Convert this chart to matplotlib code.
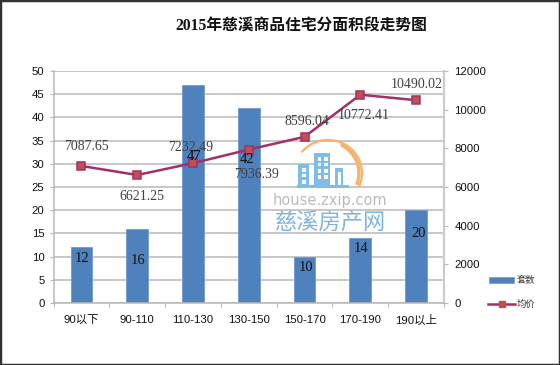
import matplotlib
matplotlib.use('Agg')
import matplotlib.pyplot as plt
from matplotlib.patches import Rectangle, Arc
from matplotlib.lines import Line2D

categories = ['90以下', '90-110', '110-130', '130-150', '150-170', '170-190', '190以上']
counts = [12, 16, 47, 42, 10, 14, 20]
prices = [7087.65, 6621.25, 7232.49, 7936.39, 8596.04, 10772.41, 10490.02]
price_labels = ['7087.65', '6621.25', '7232.49', '7936.39', '8596.04', '10772.41', '10490.02']
left_ticks = list(range(0, 51, 5))
right_ticks = list(range(0, 12001, 2000))

plt.rcParams['font.family'] = ['Liberation Sans', 'Noto Sans CJK SC', 'DejaVu Sans']
W, H = 560, 365
fig = plt.figure(figsize=(W / 100, H / 100), dpi=100, facecolor='white')
ax = fig.add_axes([53.5 / W, 1 - 303 / H, (444 - 53.5) / W, (303 - 71) / H])
x = list(range(len(categories)))
GRID = '#b8b8b8'
ax.set_axisbelow(True)
ax.bar(x, counts, width=0.39, color='#4f81bd', edgecolor='#6f9bd0', linewidth=0.6, zorder=2)
ax.set_xlim(-0.5, 6.5)
ax.set_ylim(0, 50)
ax.set_yticks(left_ticks)
ax.yaxis.grid(True, color=GRID, linewidth=1.1)
ax.set_xticks([i + 0.5 for i in range(-1, 7)])
ax.set_xticklabels([])
ax.tick_params(axis='x', length=3, color=GRID, direction='out')
ax.tick_params(axis='y', length=3, color=GRID, labelsize=8.2, pad=3.5, labelcolor='#111111')
for s in ['left', 'right', 'bottom']:
    ax.spines[s].set_color(GRID)
    ax.spines[s].set_linewidth(1.1)
ax.spines['right'].set_color('#cccccc')
ax.spines['right'].set_linewidth(1.6)
ax.spines['top'].set_visible(False)
for i, c in enumerate(categories):
    ax.text(i, -3.7, c, ha='center', va='center', fontsize=8.2, color='#111111')

ax2 = ax.twinx()
ax2.set_ylim(0, 12000)
ax2.set_yticks(right_ticks)
ax2.tick_params(axis='y', length=3, color=GRID, labelsize=8.2, pad=4.5, labelcolor='#111111')
for s in ax2.spines.values():
    s.set_visible(False)
ax2.plot(x, prices, color='#a0306a', linewidth=1.8, marker='s', markersize=6,
         markerfacecolor='#c0504d', markeredgecolor='#a0306a', markeredgewidth=1.1, zorder=4)

# watermark, placed in pixel space
pix = fig.transFigure
def P(px, py):
    return px / W, 1 - py / H
def box(px, py, w, h, color, z=3.5):
    fx, fy = P(px, py + h)
    ax2.add_artist(Rectangle((fx, fy), w / W, h / H, transform=pix, color=color, zorder=z, lw=0))
BL = '#7fbde8'
box(298, 164, 11, 23, BL)
box(314, 153, 16, 34, BL)
box(335, 168, 8, 19, BL)
box(297, 185, 52, 2.5, BL)
for wy in (168, 174, 180):
    box(302, wy, 3.5, 3.5, 'white', 3.6)
for wy in (157, 163, 169, 175):
    for wx in (317.5, 324):
        box(wx, wy, 3.5, 3.5, 'white', 3.6)
box(338, 172, 2.5, 13, 'white', 3.6)
ORG = '#f5b26b'
cx, cy = P(328, 173)
ax2.add_artist(Arc((cx, cy), 68 / W, 66 / H, theta1=-35, theta2=130, transform=pix,
                   color=ORG, linewidth=1.6, zorder=3.5))
cx, cy = P(325, 173)
ax2.add_artist(Arc((cx, cy), 68 / W, 64 / H, theta1=-30, theta2=70, transform=pix,
                   color=ORG, linewidth=2.4, zorder=3.5))
fig.text(*P(330, 200), 'house.zxip.com', ha='center', va='center', fontsize=10.5,
         color='#bbbbbb', family=['DejaVu Sans'], zorder=5)
fig.text(*P(330, 222), '慈溪房产网', ha='center', va='center', fontsize=16,
         color='#7fb4de', family=['Noto Sans CJK SC'], zorder=5)

# data labels, offset in pixels from their marks
price_off = [(5, 19), (5, -22), (-2, 16), (8, -25), (2, 15), (3, -21), (1, 16)]
count_off = [(1, -11), (1, -32), (1, -72), (-2, -51), (1, -11), (1, -10), (3, -23)]
for i in x:
    dx, dy = price_off[i]
    ax2.annotate(price_labels[i], (i, prices[i]), xytext=(dx * .72, dy * .72), textcoords='offset points',
                 ha='center', va='center', fontsize=10, family=['Liberation Serif'], color='#404040', zorder=6)
    dx, dy = count_off[i]
    ax2.annotate(str(counts[i]), (i, counts[i]), xycoords=ax.transData,
                 xytext=(dx * .72, dy * .72), textcoords='offset points',
                 ha='center', va='center', fontsize=10.5, family=['Liberation Serif'], color='#111111', zorder=6)

fig.text(*P(301, 27), '2015年慈溪商品住宅分面积段走势图', ha='center', va='center', fontsize=11.3,
         fontweight='bold', family=['Liberation Serif', 'Noto Sans CJK SC'], color='#111111')

# legend
fig.add_artist(Rectangle(P(489, 283), 25 / W, 6 / H, transform=pix, facecolor='#4f81bd', edgecolor='#6f9bd0', linewidth=0.5))
fig.add_artist(Line2D([488 / W, 515 / W], [1 - 304 / H] * 2, transform=pix, color='#a0306a', linewidth=1.8))
fig.add_artist(Line2D([502 / W], [1 - 304 / H], transform=pix, linestyle='none',
                      marker='s', markersize=4, markerfacecolor='#c0504d', markeredgecolor='#c0504d'))
fig.text(*P(526, 280), '套数', ha='center', va='center', fontsize=6.7, color='#333333')
fig.text(*P(526, 304), '均价', ha='center', va='center', fontsize=6.7, color='#333333')

# dark frame around the chart
fig.add_artist(Rectangle((0, 0), 1, 1, transform=pix, fill=False, edgecolor='#333333', linewidth=2.5))
fig.savefig('out.png', dpi=100, facecolor='white')
